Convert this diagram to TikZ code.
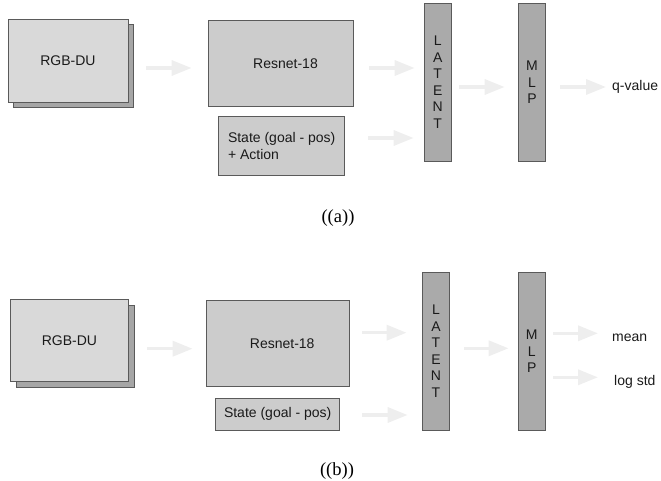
\documentclass[tikz,border=0pt]{standalone}
\usepackage{fontspec}
\setmainfont{Liberation Sans}
\newfontfamily\capfont{Liberation Serif}
\usetikzlibrary{arrows.meta,shadows}
\definecolor{boxline}{HTML}{5A5A5A}
\definecolor{rgbfill}{HTML}{D9D9D9}
\definecolor{shadefill}{HTML}{A6A6A6}
\definecolor{netfill}{HTML}{CCCCCC}
\definecolor{barfill}{HTML}{AAAAAA}
\definecolor{arrowgray}{HTML}{EEEEEE}
\definecolor{txt}{HTML}{1A1A1A}
\tikzset{
    blockbox/.style={rectangle, draw=boxline, line width=0.8pt, inner sep=0pt,
        text=txt, font=\fontsize{14}{17}\selectfont},
    imgbox/.style={blockbox, fill=rgbfill,
        copy shadow={shadow xshift=5.6pt, shadow yshift=-5.9pt, fill=shadefill, draw=boxline}},
    netbox/.style={blockbox, fill=netfill},
    barbox/.style={blockbox, fill=barfill, minimum width=27.3pt, minimum height=158.6pt,
        align=center, font=\fontsize{14}{16.5}\selectfont},
    outtext/.style={anchor=west, inner sep=0pt, text=txt, font=\fontsize{14}{17}\selectfont},
    captext/.style={inner sep=0pt, font=\capfont\fontsize{18.5}{22}\selectfont},
    flowarrow/.style={draw=arrowgray, line width=3.5pt, -{Triangle[length=20pt,width=15pt]}}
}
\begin{document}
\begin{tikzpicture}[x=1pt, y=-1pt]
    \useasboundingbox (0,0) rectangle (661,481);

    % (a)
    \node[imgbox, minimum width=120pt, minimum height=83pt] (rgbA) at (68,60.5) {RGB-DU};
    \node[netbox, minimum width=145pt, minimum height=85.6pt] (resA) at (280.5,63.5) {\hspace*{10pt}Resnet-18};
    \node[netbox, minimum width=126pt, minimum height=59pt, align=left] (stateA) at (281.7,145.7) {State (goal - pos)\\+ Action};
    \node[barbox] (latA) at (437.7,82.3) {L\\A\\T\\E\\N\\T};
    \node[barbox] (mlpA) at (532,82.3) {M\\L\\P};
    \node[outtext] (qval) at (612,87) {q-value};
    \node[captext] (capA) at (338,218) {((a))};

    \draw[flowarrow, shorten <=18pt, shorten >=16pt] ([yshift=-7.5pt]rgbA.east) -- ([yshift=-4.5pt]resA.west);
    \draw[flowarrow, shorten <=16pt, shorten >=9pt] ([yshift=-4.5pt]resA.east) -- ([yshift=14.3pt]latA.west);
    \draw[flowarrow, shorten <=23.3pt, shorten >=10pt] ([yshift=7.7pt]stateA.east) -- ([yshift=-55.7pt]latA.west);
    \draw[flowarrow, shorten <=7.7pt, shorten >=13.3pt] ([yshift=-4.7pt]latA.east) -- ([yshift=-4.7pt]mlpA.west);
    \draw[flowarrow, shorten <=14.3pt, shorten >=6pt] ([yshift=-4.7pt]mlpA.east) -- (qval.west);

    % (b)
    \node[imgbox, minimum width=118.4pt, minimum height=82pt] (rgbB) at (69.5,340.3) {RGB-DU};
    \node[netbox, minimum width=143.3pt, minimum height=85.7pt] (resB) at (277.7,343.2) {\hspace*{9pt}Resnet-18};
    \node[netbox, minimum width=124pt, minimum height=32pt] (stateB) at (277.7,414.3) {State (goal - pos)};
    \node[barbox, minimum height=158pt] (latB) at (436,351.3) {L\\A\\T\\E\\N\\T};
    \node[barbox, minimum height=158pt] (mlpB) at (531.7,351.3) {M\\L\\P};
    \node[outtext] (meanB) at (612,337.7) {mean};
    \node[outtext] (stdB) at (614,382.3) {log std};
    \node[captext] (capB) at (337,470.7) {((b))};

    \draw[flowarrow, shorten <=18.3pt, shorten >=13pt] ([yshift=-8.4pt]rgbB.east) -- ([yshift=-5.5pt]resB.west);
    \draw[flowarrow, shorten <=12.7pt, shorten >=15.3pt] ([yshift=10.5pt]resB.east) -- ([yshift=18.6pt]latB.west);
    \draw[flowarrow, shorten <=22.3pt, shorten >=14.3pt] ([yshift=-0.7pt]stateB.east) -- ([yshift=-63.7pt]latB.west);
    \draw[flowarrow, shorten <=14.3pt, shorten >=9pt] ([yshift=3pt]latB.east) -- ([yshift=3pt]mlpB.west);
    \draw[flowarrow, shorten <=7.7pt, shorten >=14pt] ([yshift=18pt]mlpB.east) -- ([yshift=4.4pt]meanB.west);
    \draw[flowarrow, shorten <=7.7pt, shorten >=16pt] ([yshift=-26pt]mlpB.east) -- ([yshift=5pt]stdB.west);

\end{tikzpicture}
\end{document}
